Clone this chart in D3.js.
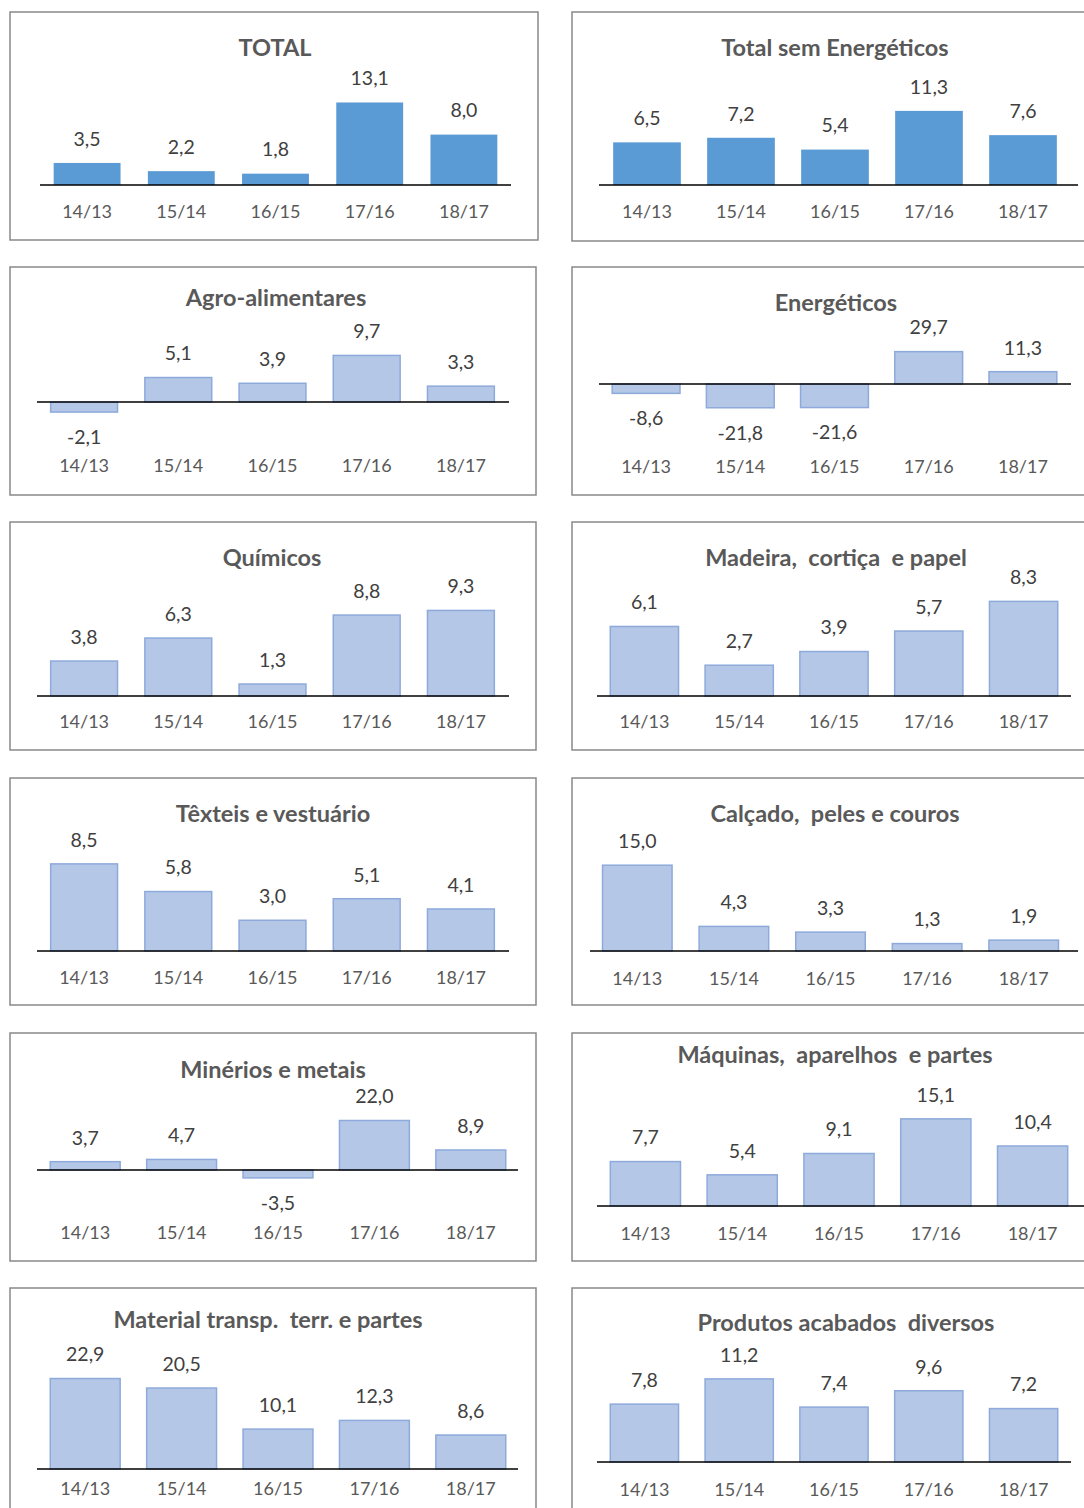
<!DOCTYPE html>
<html>
<head>
<meta charset="utf-8">
<script src="https://cdn.jsdelivr.net/npm/d3@7"></script>
<style>
  body { margin: 0; background: #fff; overflow: hidden; }
  svg { display: block; font-family: Lato, "Open Sans", sans-serif; }
</style>
</head>
<body>
<div id="chart"></div>
<script>
var categories = ['14/13', '15/14', '16/15', '17/16', '18/17'];

var titles = ['TOTAL', 'Total sem Energéticos', 'Agro-alimentares', 'Energéticos',
  'Químicos', 'Madeira,  cortiça  e papel', 'Têxteis e vestuário', 'Calçado,  peles e couros',
  'Minérios e metais', 'Máquinas,  aparelhos  e partes', 'Material transp.  terr. e partes',
  'Produtos acabados  diversos'];

var total = [3.5, 2.2, 1.8, 13.1, 8.0];
var totalSemEnerg = [6.5, 7.2, 5.4, 11.3, 7.6];
var agro = [-2.1, 5.1, 3.9, 9.7, 3.3];
var energeticos = [-8.6, -21.8, -21.6, 29.7, 11.3];
var quimicos = [3.8, 6.3, 1.3, 8.8, 9.3];
var madeira = [6.1, 2.7, 3.9, 5.7, 8.3];
var texteis = [8.5, 5.8, 3.0, 5.1, 4.1];
var calcado = [15.0, 4.3, 3.3, 1.3, 1.9];
var minerios = [3.7, 4.7, -3.5, 22.0, 8.9];
var maquinas = [7.7, 5.4, 9.1, 15.1, 10.4];
var materialTransp = [22.9, 20.5, 10.1, 12.3, 8.6];
var produtos = [7.8, 11.2, 7.4, 9.6, 7.2];

var series = [total, totalSemEnerg, agro, energeticos, quimicos, madeira,
  texteis, calcado, minerios, maquinas, materialTransp, produtos];

// panel placement: box, title centre, band range, axis line, zero line, px per unit, category label y
var layout = [
  { box: [10, 12, 528, 228], tx: 275, ty: 48, band: [40, 511], line: [40, 511], y0: 185, unit: 6.3, labY: 212, pad: 0.29 },
  { box: [572, 12, 540, 229], tx: 835, ty: 48, band: [600, 1070], line: [599, 1078], y0: 185, unit: 6.56, labY: 212, pad: 0.28 },
  { box: [10, 267, 526, 228], tx: 276, ty: 298, band: [37, 508], line: [37, 509], y0: 402, unit: 4.8, labY: 466, pad: 0.29 },
  { box: [572, 267, 540, 228], tx: 836, ty: 303, band: [599, 1070], line: [599, 1071], y0: 384, unit: 1.09, labY: 467, pad: 0.28 },
  { box: [10, 522, 526, 228], tx: 272, ty: 558, band: [37, 508], line: [37, 509], y0: 696, unit: 9.2, labY: 722, pad: 0.29 },
  { box: [572, 522, 540, 228], tx: 836, ty: 558, band: [597, 1071], line: [597, 1071], y0: 696, unit: 11.4, labY: 722, pad: 0.28 },
  { box: [10, 778, 526, 227], tx: 273, ty: 814, band: [37, 508], line: [37, 509], y0: 951, unit: 10.25, labY: 978, pad: 0.29 },
  { box: [572, 778, 540, 227], tx: 835, ty: 814, band: [589, 1072], line: [590, 1078], y0: 951, unit: 5.72, labY: 979, pad: 0.28 },
  { box: [10, 1033, 526, 228], tx: 273, ty: 1070, band: [37, 519], line: [37, 518], y0: 1170, unit: 2.25, labY: 1233, pad: 0.275 },
  { box: [572, 1033, 540, 228], tx: 835, ty: 1055, band: [597, 1081], line: [597, 1084], y0: 1206, unit: 5.77, labY: 1234, pad: 0.275 },
  { box: [10, 1288, 526, 240], tx: 268, ty: 1320, band: [37, 519], line: [37, 518], y0: 1469, unit: 3.95, labY: 1489, pad: 0.275 },
  { box: [572, 1288, 540, 240], tx: 846, ty: 1323, band: [597, 1071], line: [597, 1071], y0: 1462, unit: 7.42, labY: 1490, pad: 0.28 }
];

var svg = d3.select("#chart")
  .append("svg")
  .attr("width", 1084)
  .attr("height", 1508);

// Excel style: one decimal, comma, plain hyphen for negatives
var fmt = function(v) { return v.toFixed(1).replace(".", ","); };

series.forEach(function(values, i) {
  var L = layout[i];
  var dark = i < 2;
  var g = svg.append("g");

  g.append("rect")
    .attr("x", L.box[0]).attr("y", L.box[1])
    .attr("width", L.box[2]).attr("height", L.box[3])
    .attr("fill", "#fff")
    .attr("stroke", "#898989")
    .attr("stroke-width", 1.5);

  g.append("text")
    .attr("x", L.tx).attr("y", L.ty)
    .attr("dy", "0.35em")
    .attr("text-anchor", "middle")
    .style("white-space", "pre")
    .attr("font-size", 23.5)
    .attr("font-weight", "bold")
    .attr("fill", "#595959")
    .text(titles[i]);

  var x = d3.scaleBand()
    .domain(categories)
    .range(L.band)
    .paddingInner(L.pad)
    .paddingOuter(L.pad / 2);

  var y = d3.scaleLinear()
    .domain([0, 10])
    .range([L.y0, L.y0 - 10 * L.unit]);

  var data = values.map(function(v, j) { return { cat: categories[j], v: v }; });

  g.selectAll(".bar")
    .data(data)
    .enter()
    .append("rect")
    .attr("class", "bar")
    .attr("x", function(d) { return x(d.cat); })
    .attr("y", function(d) { return Math.min(y(d.v), y(0)); })
    .attr("width", x.bandwidth())
    .attr("height", function(d) { return Math.abs(y(d.v) - y(0)); })
    .attr("fill", dark ? "#5b9bd5" : "#b4c7e7")
    .attr("stroke", dark ? "none" : "#8eaadb")
    .attr("stroke-width", 1.5);

  g.append("line")
    .attr("x1", L.line[0]).attr("x2", L.line[1])
    .attr("y1", y(0)).attr("y2", y(0))
    .attr("stroke", "#000")
    .attr("stroke-width", 1.5);

  g.selectAll(".val")
    .data(data)
    .enter()
    .append("text")
    .attr("class", "val")
    .attr("x", function(d) { return x(d.cat) + x.bandwidth() / 2; })
    .attr("y", function(d) { return d.v >= 0 ? y(d.v) - 24 : y(d.v) + 25; })
    .attr("dy", "0.35em")
    .attr("text-anchor", "middle")
    .attr("font-size", 19.5)
    .attr("fill", "#404040")
    .text(function(d) { return fmt(d.v); });

  var axis = g.append("g")
    .attr("transform", "translate(0," + L.labY + ")")
    .call(d3.axisBottom(x).tickSize(0).tickPadding(0));
  axis.select(".domain").remove();
  axis.selectAll("text")
    .attr("y", 0)
    .attr("dy", "0.35em")
    .attr("font-family", "Lato, sans-serif")
    .attr("font-size", 18)
    .attr("fill", "#595959");
});
</script>
</body>
</html>
